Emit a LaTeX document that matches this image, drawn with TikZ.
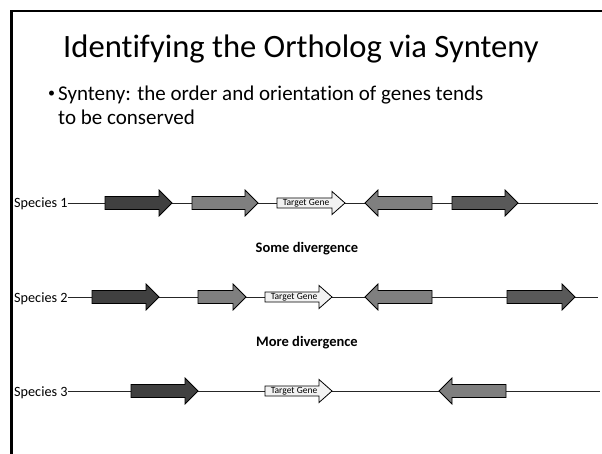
\documentclass[tikz,border=0pt]{standalone}
\usepackage{fontspec}
\setmainfont[Ligatures={NoCommon}]{Carlito}
\usetikzlibrary{calc}

\definecolor{genedark}{HTML}{404040}
\definecolor{genemid}{HTML}{7F7F7F}
\definecolor{genedeep}{HTML}{595959}
\definecolor{genelight}{HTML}{F2F2F2}

\tikzset{
  genebody/.style={draw=black, line width=0.8pt, line join=miter},
  backbone/.style={draw=black!85, line width=0.9pt},
  specieslabel/.style={font=\fontsize{14.2}{16}\selectfont, inner sep=0pt, anchor=base west},
  divlabel/.style={font=\fontsize{14.5}{17}\selectfont\bfseries, inner sep=0pt},
  targetlabel/.style={font=\fontsize{9.5}{11}\selectfont, inner sep=0pt},
  bodytext/.style={font=\fontsize{21}{24}\selectfont, inner sep=0pt, anchor=base west},
}

% gene arrow pointing right: name, tail x, tip x, row y, fill colour
\newcommand\generight[5]{%
  \draw[genebody, fill=#5] (#2,#4-6.5) -- (#3-13,#4-6.5) -- (#3-13,#4-13) -- (#3,#4)
    -- (#3-13,#4+13) -- (#3-13,#4+6.5) -- (#2,#4+6.5) -- cycle;
  \coordinate (#1) at ({(#2+#3)/2},#4);}
% gene arrow pointing left: name, tail x, tip x, row y, fill colour
\newcommand\geneleft[5]{%
  \draw[genebody, fill=#5] (#2,#4-6.5) -- (#3+13,#4-6.5) -- (#3+13,#4-13) -- (#3,#4)
    -- (#3+13,#4+13) -- (#3+13,#4+6.5) -- (#2,#4+6.5) -- cycle;
  \coordinate (#1) at ({(#2+#3)/2},#4);}
% target gene: name, tail x, tip x, row y
\newcommand\genetarget[4]{%
  \draw[genebody, fill=genelight] (#2,#4-5) -- (#3-13,#4-5) -- (#3-13,#4-11.5) -- (#3,#4)
    -- (#3-13,#4+11.5) -- (#3-13,#4+5) -- (#2,#4+5) -- cycle;
  \node[targetlabel] (#1) at (#2+29,#4) {Target Gene};}

\begin{document}
\begin{tikzpicture}[x=1pt, y=-1pt]
\useasboundingbox (0,0) rectangle (602,454);
\fill[white] (0,0) rectangle (602,454);

% slide frame
\draw[line width=2.5pt] (11.25,454) -- (11.25,11.25) -- (602,11.25);

% heading and bullet
\node[font=\fontsize{32.6}{36}\selectfont, inner sep=0pt, anchor=base] (title) at (301,58)
  {Identifying the Ortholog via Synteny};
\node[font=\fontsize{14}{16}\selectfont, inner sep=0pt, anchor=base west] (dot) at (48,98) {•};
\node[bodytext] (line1) at (58,101) {Synteny: the order and orientation of genes tends};
\node[bodytext] (line2) at (58,125) {to be conserved};

% species 1
\node[specieslabel] (s1) at (14,208) {Species 1};
\coordinate (e1) at (598,203);
\draw[backbone] (s1.east |- e1) -- (e1);
\generight{a11}{105}{172}{203}{genedark}
\generight{a12}{192}{258}{203}{genemid}
\genetarget{t1}{277}{345}{203}
\geneleft{a14}{432}{365}{203}{genemid}
\generight{a15}{452}{518}{203}{genedeep}

\node[divlabel] (d1) at (307,249) {Some divergence};

% species 2
\node[specieslabel] (s2) at (14,302) {Species 2};
\coordinate (e2) at (598,297);
\draw[backbone] (s2.east |- e2) -- (e2);
\generight{a21}{92}{159}{297}{genedark}
\generight{a22}{198}{246}{297}{genemid}
\genetarget{t2}{265}{332}{297}
\geneleft{a24}{432}{365}{297}{genemid}
\generight{a25}{507}{575}{297}{genedeep}

\node[divlabel] (d2) at (307,343) {More divergence};

% species 3
\node[specieslabel] (s3) at (14,396) {Species 3};
\coordinate (e3) at (600,391);
\draw[backbone] (s3.east |- e3) -- (e3);
\generight{a31}{131}{198}{391}{genedark}
\genetarget{t3}{265}{332}{391}
\geneleft{a34}{506}{439}{391}{genemid}
\end{tikzpicture}
\end{document}
